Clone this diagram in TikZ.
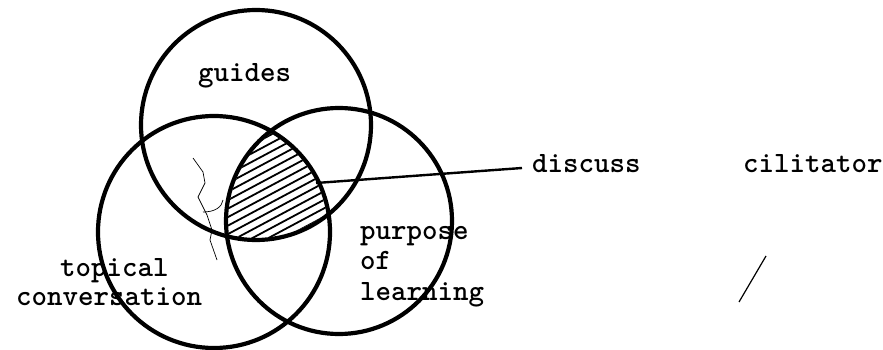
\documentclass[tikz,border=0pt]{standalone}
\usepackage{fontspec}
\begin{document}
\begin{tikzpicture}[x=1pt,y=-1pt,
  venn/.style={circle,draw,line width=4.2pt,inner sep=0pt},
  lbl/.style={font=\ttfamily\bfseries\fontsize{29.5}{34}\selectfont,anchor=base west,inner sep=0pt},
  hatch/.style={line width=1.8pt},
  hair/.style={line width=0.7pt}]
\useasboundingbox (0,0) rectangle (883,350);
% three circles
\node[venn,minimum size=230pt] (guidesC) at (256,125) {};
\node[venn,minimum size=232pt] (topicC) at (214,232) {};
\node[venn,minimum size=226pt] (purposeC) at (339,221) {};
% hatched triple intersection
\begin{scope}
  \clip (256,125) circle[radius=113pt];
  \clip (214,232) circle[radius=114pt];
  \clip (339,221) circle[radius=111pt];
  \foreach \c in {130,138.5,...,360} {
    \draw[hatch] (200,\c) -- ++(150,-80);
  }
\end{scope}
% labels
\node[lbl] (guides) at (198,82) {guides};
\node[lbl] (topical) at (60,276) {topical};
\node[lbl] (conv) at (16,305) {conversation};
\node[lbl] (purpose) at (360,239) {purpose};
\node[lbl] (of) at (360,269) {of};
\node[lbl] (learning) at (360,300) {learning};
\node[lbl] (discuss) at (532,172) {discuss};
\node[lbl] (facil) at (743,172) {cilitator};
% connector from shaded region to label
\coordinate (hpt) at (316,183);
\coordinate (lend) at (522,168);
\draw[line width=2.4pt] (hpt) -- (lend);
% stray marks of the original
\draw[hair] (193,158) -- (203,172) -- (205,183) -- (198,197) -- (207,215) -- (212,230) -- (210,240) -- (217,260);
\draw[hair] (203,212) .. controls (215,212) and (222,207) .. (223,200);
\draw[line width=1.2pt] (766,256) -- (739,302);
\end{tikzpicture}
\end{document}
